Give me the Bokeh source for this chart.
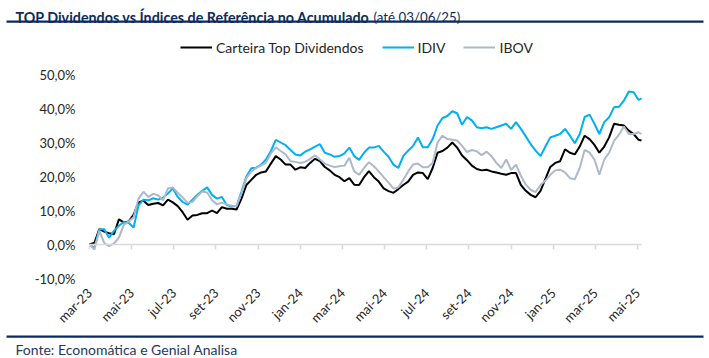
import math
from bokeh.plotting import figure
from bokeh.models import (Range1d, FixedTicker, LinearAxis, Label, BoxAnnotation,
                          Legend, LegendItem, ColumnDataSource)
from bokeh.embed import file_html
from bokeh.resources import INLINE

# ---- data (accumulated return, %), sampled every 5 trading days ----
dias = list(range(0, 561, 5)) + [563]

carteira = [0.0, 0.5, 4.5, 3.8, 3.3, 3.0, 7.4, 6.5, 6.8, 8.8,
            12.4, 12.9, 11.6, 12.0, 12.2, 11.5, 13.2, 12.4, 11.3, 9.5,
            7.3, 8.5, 8.7, 9.2, 9.2, 10.0, 9.2, 11.0, 10.5, 10.5,
            10.3, 13.5, 17.5, 19.0, 20.5, 21.2, 21.5, 23.8, 26.0, 25.0,
            23.5, 23.5, 22.0, 22.7, 22.5, 24.0, 25.2, 24.5, 22.8, 21.8,
            20.5, 19.8, 18.6, 19.5, 17.6, 17.5, 19.8, 21.6, 19.8, 18.5,
            16.5, 15.7, 15.2, 16.3, 17.5, 18.5, 20.5, 21.2, 21.0, 19.2,
            22.5, 27.0, 27.5, 28.5, 30.0, 28.5, 26.2, 24.8, 23.2, 22.2,
            21.8, 22.0, 21.5, 21.2, 20.8, 20.5, 21.0, 21.0, 17.5, 15.8,
            14.6, 13.9, 15.8, 19.3, 22.8, 24.0, 24.5, 28.0, 27.0, 26.5,
            28.8, 32.0, 31.0, 29.3, 27.0, 28.8, 31.5, 35.5, 35.2, 35.0,
            33.5, 32.5, 30.8, 30.6]

idiv = [0.0, -1.0, 4.5, 4.5, 2.0, 4.0, 5.5, 6.6, 6.3, 5.0,
        11.5, 13.2, 13.0, 13.6, 13.2, 13.8, 15.0, 16.5, 14.0, 12.5,
        11.7, 13.2, 14.6, 15.8, 16.8, 14.6, 13.5, 14.0, 11.6, 11.2,
        11.3, 15.5, 20.0, 22.4, 22.6, 23.5, 25.0, 27.5, 30.8, 30.0,
        29.2, 27.8, 26.5, 26.2, 27.3, 28.0, 28.8, 29.5, 27.0, 26.5,
        25.8, 26.0, 26.8, 28.5, 26.0, 24.9, 27.0, 28.5, 28.5, 29.0,
        27.3, 25.8, 23.5, 22.5, 26.0, 27.6, 29.0, 31.5, 28.6, 28.6,
        31.0, 35.0, 37.2, 37.8, 39.2, 38.6, 35.2, 37.5, 36.5, 34.5,
        34.2, 34.5, 34.0, 34.5, 35.0, 35.5, 34.0, 36.0, 34.0, 31.8,
        29.5, 27.6, 26.0, 28.8, 31.5, 32.0, 32.5, 34.0, 32.0, 29.8,
        32.5, 37.5, 38.2, 35.5, 32.5, 36.0, 37.4, 40.4, 40.5, 42.3,
        45.0, 44.8, 42.5, 43.0]

ibov = [0.0, -1.5, 4.0, 0.5, -0.5, 0.3, 2.0, 5.8, 6.8, 8.0,
        13.5, 15.5, 14.0, 14.9, 14.5, 13.0, 16.5, 16.8, 15.2, 13.8,
        12.3, 12.5, 14.2, 15.6, 15.3, 13.0, 11.8, 12.3, 11.8, 11.4,
        11.3, 15.0, 19.5, 21.5, 22.5, 23.3, 24.0, 26.8, 28.6, 27.5,
        26.5, 24.5, 24.3, 24.0, 24.3, 25.2, 26.2, 25.0, 23.8, 23.2,
        22.8, 23.0, 23.2, 25.5, 21.5, 20.5, 22.5, 24.2, 23.0, 21.5,
        19.8, 18.2, 16.5, 16.8, 19.0, 21.5, 23.5, 23.8, 22.7, 22.7,
        24.0, 30.0, 32.0, 31.0, 30.8, 30.6, 29.0, 27.2, 27.8, 27.4,
        26.3, 27.3, 26.0, 24.0, 22.5, 25.0, 22.0, 23.5, 20.2, 17.6,
        16.1, 15.4, 17.5, 18.8, 20.5, 21.8, 22.0, 21.2, 19.5, 19.2,
        22.5, 27.8, 27.0, 25.0, 20.5, 25.0, 27.0, 30.5, 32.3, 34.7,
        32.5, 32.5, 33.0, 32.5]

meses = ["mar-23", "mai-23", "jul-23", "set-23", "nov-23", "jan-24", "mar-24",
         "mai-24", "jul-24", "set-24", "nov-24", "jan-25", "mar-25", "mai-25"]
passo_rotulo = 43  # trading days between labels
y_ticks = [-10, 0, 10, 20, 30, 40, 50]

series_nomes = ["Carteira Top Dividendos", "IDIV", "IBOV"]
titulo = "TOP Dividendos vs Índices de Referência no Acumulado"
subtitulo = "(até 03/06/25)"
fonte = "Fonte: Economática e Genial Analisa"

# ---- styles / layout (pixels) ----
FONT = "Lato"
NAVY = "#0F2B5B"
RULE = "#0B2A63"
TXT = "#262626"
W, H = 709, 358
PLOT_L, PLOT_R = 89, 641        # pixel x of first / last day
PLOT_T, PLOT_B = 74, 278        # pixel y of top / bottom tick value

px_per_day = (PLOT_R - PLOT_L) / dias[-1]
px_per_pct = (PLOT_B - PLOT_T) / (y_ticks[-1] - y_ticks[0])
x_start = -PLOT_L / px_per_day
x_end = dias[-1] + (W - PLOT_R) / px_per_day
y_end = y_ticks[-1] + PLOT_T / px_per_pct
y_start = y_ticks[0] - (H - PLOT_B) / px_per_pct

x_ticks = [i * passo_rotulo for i in range(len(meses))]

p = figure(width=W, height=H, output_backend="svg", toolbar_location=None,
           x_range=Range1d(x_start, x_end), y_range=Range1d(y_start, y_end),
           x_axis_location=None, y_axis_location=None, min_border=0)
p.outline_line_color = None
p.grid.visible = False
p.background_fill_color = "white"
p.border_fill_color = "white"

# y axis labels
eixo_y = LinearAxis(fixed_location=0, ticker=FixedTicker(ticks=y_ticks),
                    major_label_overrides={v: f"{v:.1f}%".replace(".", ",") for v in y_ticks},
                    axis_line_color=None, major_tick_line_color=None,
                    minor_tick_line_color=None, major_tick_in=0, major_tick_out=0,
                    major_label_standoff=14, major_label_text_font=FONT,
                    major_label_text_font_size="13px", major_label_text_color=TXT)
p.add_layout(eixo_y, "left")

# x labels at the bottom of the plot area
eixo_x = LinearAxis(fixed_location=y_ticks[0], ticker=FixedTicker(ticks=x_ticks),
                    major_label_overrides={t: m for t, m in zip(x_ticks, meses)},
                    major_label_orientation=math.pi / 4,
                    axis_line_color=None, major_tick_line_color=None,
                    minor_tick_line_color=None, major_tick_in=0, major_tick_out=0,
                    major_label_standoff=12, major_label_text_font=FONT,
                    major_label_text_font_size="13px", major_label_text_color=TXT)
p.add_layout(eixo_x, "below")

# category axis line at 0% with tick marks
eixo0 = LinearAxis(fixed_location=0, ticker=FixedTicker(ticks=x_ticks),
                   bounds=(0, dias[-1]),
                   major_label_overrides={t: "" for t in x_ticks},
                   axis_line_color="#D9D9D9", axis_line_width=1.5,
                   major_tick_line_color="#D9D9D9", major_tick_line_width=1.5,
                   major_tick_in=0, major_tick_out=5,
                   minor_tick_line_color=None, major_label_text_font_size="1px",
                   major_label_standoff=0)
p.add_layout(eixo0, "below")

src = ColumnDataSource(dict(dia=dias, carteira=carteira, idiv=idiv, ibov=ibov))
r1 = p.line("dia", "carteira", source=src, line_color="#000000", line_width=2)
r2 = p.line("dia", "idiv", source=src, line_color="#00B0F0", line_width=2)
r3 = p.line("dia", "ibov", source=src, line_color="#ADB9CA", line_width=2)

legend = Legend(items=[LegendItem(label=series_nomes[0], renderers=[r1]),
                       LegendItem(label=series_nomes[1], renderers=[r2]),
                       LegendItem(label=series_nomes[2], renderers=[r3])],
                orientation="horizontal", location=(180, H - 57),
                padding=0, margin=0, spacing=18, label_standoff=4,
                glyph_width=32, glyph_height=16, label_height=20,
                label_text_font=FONT, label_text_font_size="14px",
                label_text_color=TXT, background_fill_alpha=0,
                border_line_color=None)
p.add_layout(legend)

# header
p.add_layout(Label(x=15, y=H - 16.5, x_units="screen", y_units="screen",
                   text=titulo, text_font=FONT, text_font_style="bold",
                   text_font_size="14.3px", text_color=NAVY,
                   text_baseline="alphabetic"))
p.add_layout(Label(x=373, y=H - 16.5, x_units="screen", y_units="screen",
                   text=subtitulo, text_font=FONT, text_font_size="13.3px",
                   text_color=NAVY, text_baseline="alphabetic"))
# footer
p.add_layout(Label(x=15, y=H - 349, x_units="screen", y_units="screen",
                   text=fonte, text_font=FONT, text_font_size="14px",
                   text_color="#1F3864", text_baseline="alphabetic"))
# horizontal rules
for top_px in (20, 335):
    p.add_layout(BoxAnnotation(left=6, right=703, top=H - top_px, bottom=H - top_px - 2.2,
                               left_units="screen", right_units="screen",
                               top_units="screen", bottom_units="screen",
                               fill_color=RULE, fill_alpha=1, line_color=None))

open("out.html", "w").write(file_html(p, INLINE))
